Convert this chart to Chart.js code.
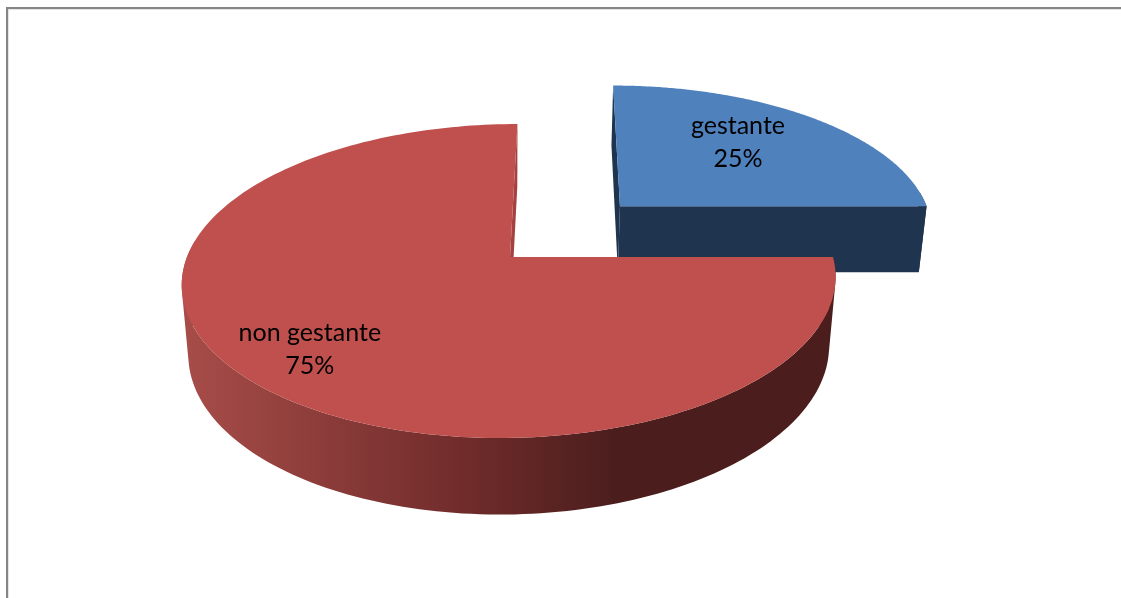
<!DOCTYPE html>
<html>
<head>
<meta charset="utf-8">
<script src="https://cdn.jsdelivr.net/npm/chart.js@4"></script>
<style>
  html, body { margin: 0; padding: 0; background: #fff; overflow: hidden; }
  #frame { position: absolute; left: 6px; top: 7px; width: 1115px; height: 591px;
           border-top: 2px solid #868686; border-left: 2px solid #868686; box-sizing: border-box;
           box-shadow: inset 1px 1px 0 #e4e4e4; }
  #pie { position: absolute; left: 0; top: 0; }
</style>
</head>
<body>
<div id="frame"></div>
<canvas id="pie" width="1121" height="598"></canvas>
<script>
// Survey shares
const categories = ['gestante', 'non gestante'];
const shares = [25, 75];

// How far each slice is pulled out of the pie, in radii
const explosion = [0.494, 0];
// Label anchors relative to each slice's tip, in radii (across, toward viewer)
const labelAnchors = [[0.4255, -0.5], [-0.553, 0.55]];

const faceColors = ['#4f81bd', '#c0504d'];
const wallColors = ['#1f344e', '#4b1e1d'];
const cutWallColors = ['#1f344e', '#a5413f'];

// Perspective camera for the tilted pie: x across, y toward the viewer, z downward
const camera = { x0: 510, y0: 257, a: 323, b: 153.3, c: -8.6, k: 0.153, n: 0.02, f: 70 };

function project(x, y, z) {
  const w = 1 - camera.k * y + camera.n * z;
  return [
    camera.x0 + (camera.a * x + camera.c * y) / w,
    camera.y0 + (camera.b * y + camera.f * z) / w
  ];
}

function signedArea(pts) {
  let sum = 0;
  pts.forEach((p, i) => {
    const q = pts[(i + 1) % pts.length];
    sum += p[0] * q[1] - q[0] * p[1];
  });
  return sum / 2;
}

// Adds a polygon to the current path, always wound the same way
function addPolygon(ctx, pts) {
  const ordered = signedArea(pts) < 0 ? pts.slice().reverse() : pts;
  ordered.forEach((p, i) => (i ? ctx.lineTo(p[0], p[1]) : ctx.moveTo(p[0], p[1])));
  ctx.closePath();
}

const RIM_STEPS = 200;

function rimAngle(arc, i) {
  return arc.startAngle + (arc.endAngle - arc.startAngle) * i / RIM_STEPS;
}

// Points along a slice's rim at the given depth
function rim(arc, ox, oy, z) {
  const pts = [];
  for (let i = 0; i <= RIM_STEPS; i++) {
    const t = rimAngle(arc, i);
    pts.push(project(ox + Math.cos(t), oy + Math.sin(t), z));
  }
  return pts;
}

// Fills any number of polygons as one path so neighbours leave no seams
function fillPolygons(ctx, polygons, fill) {
  ctx.beginPath();
  polygons.forEach(pts => addPolygon(ctx, pts));
  ctx.fillStyle = fill;
  ctx.fill('nonzero');
}

// Paints the slices as an extruded pie seen in perspective
const tiltedPie = {
  id: 'tiltedPie',
  beforeDatasetDraw(chart) {
    const ctx = chart.ctx;
    const arcs = chart.getDatasetMeta(0).data;
    arcs.forEach((arc, i) => {
      const mid = (arc.startAngle + arc.endAngle) / 2;
      const ox = explosion[i] * Math.cos(mid);
      const oy = explosion[i] * Math.sin(mid);
      const top = rim(arc, ox, oy, 0);
      const bottom = rim(arc, ox, oy, 1);
      const tipTop = project(ox, oy, 0);
      const tipBottom = project(ox, oy, 1);

      // Flat cut walls on both radial edges
      fillPolygons(ctx, [[tipTop, top[0], bottom[0], tipBottom]], cutWallColors[i]);
      fillPolygons(ctx, [[tipTop, top[RIM_STEPS], bottom[RIM_STEPS], tipBottom]], cutWallColors[i]);

      // Curved outer wall, shaded from left to right on the large slice.
      // Only the part facing the viewer is painted.
      let wall = wallColors[i];
      if (i === 1) {
        wall = ctx.createLinearGradient(180, 0, 836, 0);
        wall.addColorStop(0, '#a84d49');
        wall.addColorStop(0.43, '#702c2b');
        wall.addColorStop(0.66, '#4b1e1d');
        wall.addColorStop(1, '#4b1e1d');
      }
      const strips = [];
      for (let s = 0; s < RIM_STEPS; s++) {
        if (Math.sin(rimAngle(arc, s)) < -0.1 && Math.sin(rimAngle(arc, s + 1)) < -0.1) continue;
        strips.push([top[s], top[s + 1], bottom[s + 1], bottom[s]]);
      }
      fillPolygons(ctx, strips, wall);

      // Top face
      fillPolygons(ctx, [[tipTop].concat(top)], faceColors[i]);
    });
    return false;
  },
  afterDatasetsDraw(chart) {
    const ctx = chart.ctx;
    const arcs = chart.getDatasetMeta(0).data;
    const total = shares.reduce((s, v) => s + v, 0);
    ctx.save();
    ctx.font = '25px Lato, "Open Sans", sans-serif';
    ctx.fillStyle = '#000';
    ctx.textAlign = 'center';
    ctx.textBaseline = 'middle';
    arcs.forEach((arc, i) => {
      const mid = (arc.startAngle + arc.endAngle) / 2;
      const p = project(
        explosion[i] * Math.cos(mid) + labelAnchors[i][0],
        explosion[i] * Math.sin(mid) + labelAnchors[i][1],
        0
      );
      ctx.fillText(categories[i], p[0], p[1] - 16);
      ctx.fillText(Math.round(shares[i] / total * 100) + '%', p[0], p[1] + 17);
    });
    ctx.restore();
  }
};

new Chart(document.getElementById('pie'), {
  type: 'pie',
  data: {
    labels: categories,
    datasets: [{ data: shares, backgroundColor: faceColors, borderWidth: 0 }]
  },
  options: {
    responsive: false,
    animation: false,
    plugins: { legend: { display: false }, tooltip: { enabled: false } }
  },
  plugins: [tiltedPie]
});
</script>
</body>
</html>
